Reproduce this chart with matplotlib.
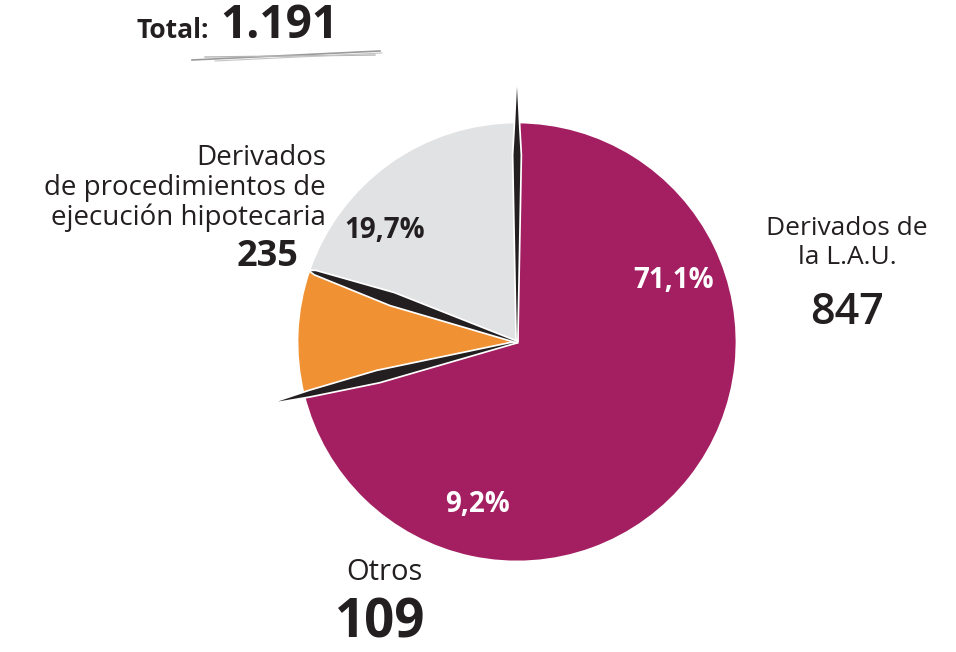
import matplotlib.pyplot as plt
import matplotlib.patheffects as pe
import numpy as np
from matplotlib.patches import Polygon

# data
labels = ['Derivados de\nla L.A.U.', 'Otros', 'Derivados\nde procedimientos de\nejecución hipotecaria']
values = [847, 109, 235]
pct_labels = ['71,1%', '9,2%', '19,7%']
total_label = '1.191'
colors = ['#A31F62', '#F09234', '#E1E2E4']
dark = '#231F20'

plt.rcParams['font.family'] = ['Open Sans', 'DejaVu Sans']

W, H = 956, 652
fig = plt.figure(figsize=(W / 100, H / 100), dpi=100)
ax = fig.add_axes([0, 0, 1, 1])

cx, cy, R = 517, H - 342, 220

wedges, _ = ax.pie(values, colors=colors, startangle=90, counterclock=False,
                   center=(cx, cy), radius=R, frame=True,
                   wedgeprops=dict(edgecolor='white', linewidth=2))
ax.set_xlim(0, W)
ax.set_ylim(0, H)
ax.axis('off')

# black slivers on the slice boundaries (angles derived from the data)
fracs = np.cumsum(values) / np.sum(values)
bounds = [90.0] + [90 - f * 360 for f in fracs[:-1]]
reach = [1.16, 1.12, 0.99]
half_w = [3.5, 5.5, 6.0]
edge_w = [2.0, 2.5, 1.5]
mid = [0.85, 0.65, 0.6]
for a, r, w, e, m in zip(bounds, reach, half_w, edge_w, mid):
    t = np.radians(a)
    ux, uy = np.cos(t), np.sin(t)
    px, py = -uy, ux
    pts = [(cx, cy),
           (cx + m * R * ux + w * px, cy + m * R * uy + w * py),
           (cx + 0.97 * R * ux + e * px, cy + 0.97 * R * uy + e * py),
           (cx + r * R * ux, cy + r * R * uy),
           (cx + 0.97 * R * ux - e * px, cy + 0.97 * R * uy - e * py),
           (cx + m * R * ux - w * px, cy + m * R * uy - w * py)]
    poly = Polygon(pts, closed=True, facecolor=dark, edgecolor='none', zorder=5)
    poly.set_path_effects([pe.Stroke(linewidth=2.5, foreground='white'), pe.Normal()])
    ax.add_patch(poly)

# percentages
ax.text(674, H - 281, pct_labels[0], color='white', fontsize=20, fontweight='bold',
        ha='center', va='center', zorder=6)
ax.text(478, H - 505, pct_labels[1], color='white', fontsize=20, fontweight='bold',
        ha='center', va='center', zorder=6)
ax.text(385, H - 231, pct_labels[2], color=dark, fontsize=20, fontweight='bold',
        ha='center', va='center', zorder=6)

# category labels and counts
ax.text(847, H - 243, labels[0], color=dark, fontsize=19, ha='center', va='center',
        linespacing=1.2)
ax.text(847, H - 312, f'{values[0]}', color=dark, fontsize=31, fontweight='semibold',
        ha='center', va='center')
ax.text(384, H - 573, labels[1], color=dark, fontsize=21, ha='center', va='center')
ax.text(380, H - 624, f'{values[1]}', color=dark, fontsize=38, fontweight='bold',
        ha='center', va='center')
ax.text(326, H - 188, labels[2], color=dark, fontsize=20, ha='right', va='center',
        multialignment='right', linespacing=1.1)
ax.text(298, H - 257, f'{values[2]}', color=dark, fontsize=26, fontweight='bold',
        ha='right', va='center')

# total
ax.text(137, H - 31, 'Total:', color=dark, fontsize=19, fontweight='bold',
        ha='left', va='center')
ax.text(220, H - 25, total_label, color=dark, fontsize=33, fontweight='bold',
        ha='left', va='center')
ax.plot([192, 380], [H - 60, H - 51], color='#9A9A9A', lw=1.2)
ax.plot([205, 375], [H - 57, H - 55], color='#B5B5B5', lw=1.0)
ax.plot([215, 382], [H - 61, H - 53], color='#C5C5C5', lw=0.8)

fig.savefig('out.png', dpi=100, facecolor='white')
